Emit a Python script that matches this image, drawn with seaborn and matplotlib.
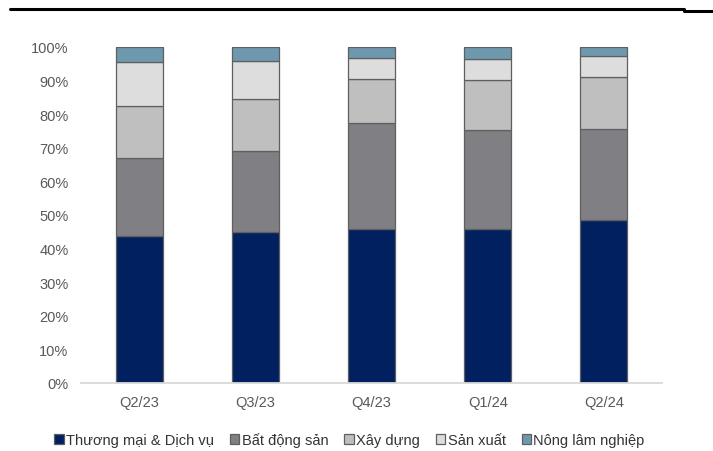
import matplotlib
matplotlib.use("Agg")
import matplotlib.pyplot as plt
from matplotlib.patches import Patch
from matplotlib.lines import Line2D
from matplotlib.ticker import PercentFormatter
import numpy as np
import pandas as pd
import seaborn as sns

# Loan portfolio structure by sector (% of total), quarterly
quarters = ["Q2/23", "Q3/23", "Q4/23", "Q1/24", "Q2/24"]
sectors = ["Thương mại & Dịch vụ", "Bất động sản", "Xây dựng", "Sản xuất", "Nông lâm nghiệp"]
thuong_mai_dich_vu = [43.8, 44.9, 45.7, 45.7, 48.4]
bat_dong_san = [23.3, 24.2, 31.8, 29.5, 27.2]
xay_dung = [15.4, 15.3, 13.1, 14.9, 15.4]
san_xuat = [12.9, 11.5, 6.1, 6.4, 6.3]
nong_lam_nghiep = [4.6, 4.1, 3.3, 3.5, 2.7]

colors = ["#002060", "#808084", "#BFBFBF", "#DDDDDD", "#6E98AE"]
edge = "#5F5F5F"

series = [thuong_mai_dich_vu, bat_dong_san, xay_dung, san_xuat, nong_lam_nghiep]
df = pd.DataFrame(
    [(q, s, v) for s, vals in zip(sectors, series) for q, v in zip(quarters, vals)],
    columns=["quarter", "sector", "share"],
)

sns.set_theme(style="white")
plt.rcParams["font.family"] = ["Liberation Sans", "DejaVu Sans"]

fig = plt.figure(figsize=(7.13, 4.52), dpi=100)
ax = fig.add_axes([81 / 713, 68 / 452, 581 / 713, 336 / 452])

bottom = np.zeros(len(quarters))
for sector, color in zip(sectors, colors):
    sub = df[df["sector"] == sector].set_index("quarter").loc[quarters].reset_index()
    sns.barplot(
        data=sub, x="quarter", y="share", order=quarters, color=color,
        width=0.405, bottom=bottom.copy(), edgecolor=edge, linewidth=0.9,
        saturation=1, ax=ax, errorbar=None,
    )
    bottom += sub["share"].to_numpy()

ax.set_xlim(-0.5, 4.5)
ax.set_ylim(0, 100)
ax.set_yticks(np.arange(0, 101, 10))
ax.yaxis.set_major_formatter(PercentFormatter(decimals=0))
ax.set_xlabel("")
ax.set_ylabel("")
for side in ["top", "right", "left"]:
    ax.spines[side].set_visible(False)
ax.spines["bottom"].set_color("#D9D9D9")
ax.spines["bottom"].set_linewidth(1.3)
ax.tick_params(axis="both", length=0, labelsize=10.5, labelcolor="#595959")
ax.tick_params(axis="y", pad=9)
ax.tick_params(axis="x", pad=9)
ax.grid(False)

handles = [Patch(facecolor=c, edgecolor=edge, linewidth=0.9) for c in colors]
fig.legend(
    handles, sectors, loc="center", bbox_to_anchor=(0.49, 1 - 441 / 452), ncol=5,
    frameon=False, fontsize=10.5, handlelength=0.65, handleheight=0.65,
    handletextpad=0.15, columnspacing=1.1, labelcolor="#333333",
)

# rule across the top of the figure
fig.add_artist(Line2D([10 / 713, 684 / 713], [1 - 10 / 452] * 2, color="black", lw=2.2))
fig.add_artist(Line2D([684 / 713, 1.0], [1 - 11.5 / 452] * 2, color="black", lw=2.2))

fig.savefig("out.png", dpi=100)
